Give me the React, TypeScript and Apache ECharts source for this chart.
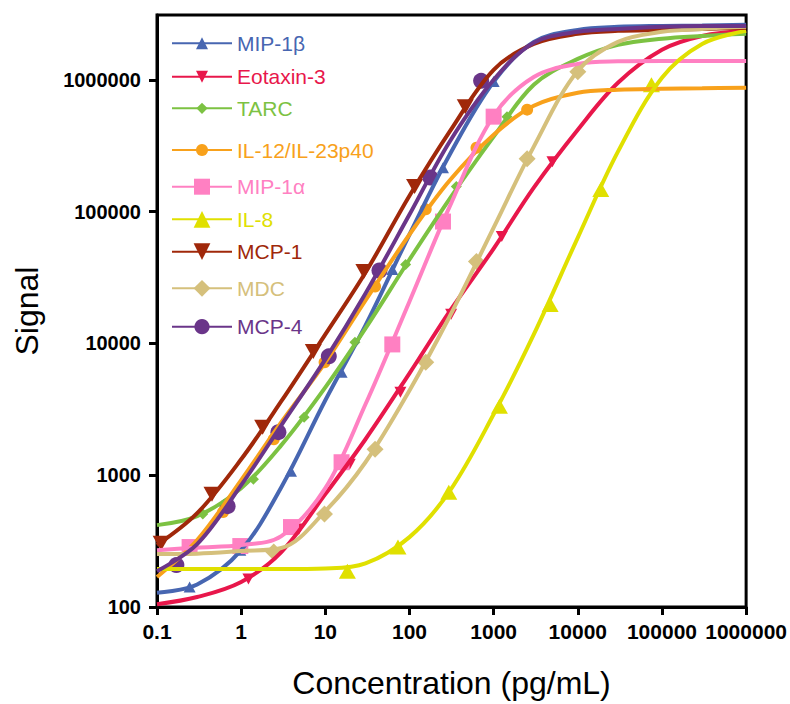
import React, { useEffect, useRef } from "react";
import * as echarts from "echarts";

// ---- data ----
const xTicks = [0.1, 1, 10, 100, 1000, 10000, 100000, 1000000];
const yTicks = [100, 1000, 10000, 100000, 1000000];

const names = ["MIP-1β", "Eotaxin-3", "TARC", "IL-12/IL-23p40", "MIP-1α", "IL-8", "MCP-1", "MDC", "MCP-4"];

// fitted-curve sample concentrations
const curveX = [0.1, 0.3, 1, 3, 10, 30, 100, 300, 1000, 3000, 10000, 30000, 100000, 300000, 1000000];

const mip1bCurve = [128, 148, 270, 811, 3700, 13700, 67000, 270000, 966000, 1940000, 2390000, 2520000, 2560000, 2580000, 2610000];
const eotaxinCurve = [105, 119, 155, 261, 718, 1874, 5930, 17500, 52400, 152000, 418000, 949000, 1690000, 2150000, 2350000];
const tarcCurve = [418, 489, 797, 1690, 4640, 13000, 43300, 125000, 370000, 916000, 1440000, 1840000, 2050000, 2150000, 2230000];
const il12Curve = [169, 322, 917, 2520, 7180, 21200, 67000, 172000, 383000, 635000, 797000, 840000, 855000, 862000, 870000];
const mip1aCurve = [270, 282, 295, 345, 797, 3450, 20800, 109000, 533000, 1050000, 1320000, 1380000, 1390000, 1390000, 1390000];
const il8Curve = [194, 194, 194, 194, 196, 214, 339, 757, 2900, 11700, 63500, 285000, 1035000, 1870000, 2350000];
const mcp1Curve = [295, 515, 1320, 3640, 11700, 34500, 132000, 404000, 1190000, 1870000, 2230000, 2350000, 2390000, 2430000, 2480000];
const mdcCurve = [252, 254, 266, 280, 534, 1254, 4400, 16000, 75600, 311000, 1170000, 1940000, 2310000, 2430000, 2520000];
const mcp4Curve = [187, 300, 840, 2390, 7560, 23900, 94900, 339000, 1000000, 1910000, 2310000, 2430000, 2520000, 2560000, 2560000];

// measured points
const mip1bX = [0.244, 0.977, 3.91, 15.6, 62.5, 250, 1000];
const mip1bY = [142, 270, 1072, 6030, 36400, 215000, 970000];
const eotaxinX = [1.22, 4.88, 19.5, 78, 312.5, 1250, 5000];
const eotaxinY = [163, 390, 1212, 4250, 16600, 64700, 239000];
const tarcX = [0.35, 1.4, 5.6, 22.5, 90, 360, 1440];
const tarcY = [507, 933, 2750, 10200, 39700, 155000, 525000];
const il12X = [0.61, 2.44, 9.8, 39, 156, 625, 2500];
const il12Y = [525, 1874, 7180, 27000, 104000, 305000, 593000];
const mip1aX = [0.244, 0.977, 3.91, 15.6, 62.5, 250, 1000];
const mip1aY = [285, 290, 404, 1254, 9820, 84000, 525000];
const il8X = [18.3, 73, 293, 1172, 4688, 18750, 75000];
const il8Y = [187, 285, 743, 3330, 19700, 147000, 916000];
const mcp1X = [0.112, 0.45, 1.8, 7.2, 28.7, 115, 460];
const mcp1Y = [305, 718, 2310, 8690, 35100, 155000, 624000];
const mdcX = [2.44, 9.77, 39, 156, 625, 2500, 10000];
const mdcY = [261, 507, 1574, 7180, 41800, 252000, 1150000];
const mcp4X = [0.17, 0.69, 2.77, 11, 44, 177, 710];
const mcp4Y = [208, 582, 2120, 7970, 35700, 181000, 982000];

const curves = [mip1bCurve, eotaxinCurve, tarcCurve, il12Curve, mip1aCurve, il8Curve, mcp1Curve, mdcCurve, mcp4Curve];
const pointsX = [mip1bX, eotaxinX, tarcX, il12X, mip1aX, il8X, mcp1X, mdcX, mcp4X];
const pointsY = [mip1bY, eotaxinY, tarcY, il12Y, mip1aY, il8Y, mcp1Y, mdcY, mcp4Y];

// ---- styles ----
const DOWN = "path://M0,0L10,0L5,10Z";
const styles = [
  { color: "#4766b1", symbol: "triangle", size: [12, 11], itemH: 15, top: 27.8 },
  { color: "#e8174b", symbol: DOWN, size: [12, 11], itemH: 15, top: 61.2 },
  { color: "#7cc242", symbol: "diamond", size: [11, 11], itemH: 14, top: 92.8 },
  { color: "#f8a11b", symbol: "circle", size: [12, 12], itemH: 15, top: 134.5 },
  { color: "#ff80c2", symbol: "rect", size: [16, 16], itemH: 20, top: 171.2 },
  { color: "#e0e000", symbol: "triangle", size: [17, 15], itemH: 21, top: 203.8 },
  { color: "#a0280a", symbol: DOWN, size: [17, 15], itemH: 21, top: 236.2 },
  { color: "#d5c07c", symbol: "diamond", size: [17, 17], itemH: 21, top: 272.8 },
  { color: "#6a3589", symbol: "circle", size: [16, 16], itemH: 19, top: 311.2 },
];

const FONT = "'Liberation Sans', Arial, sans-serif";
const fmt = (v: number) => String(Number(Number(v).toPrecision(6)));

export default function App() {
  const ref = useRef<HTMLDivElement>(null);
  useEffect(() => {
    document.body.style.margin = "0";
    const chart = echarts.init(ref.current!, null, { renderer: "svg" });
    const series: any[] = [];
    names.forEach((name, i) => {
      const st = styles[i];
      series.push({
        type: "line",
        name,
        data: curveX.map((x, k) => [x, curves[i][k]]),
        smooth: 0.35,
        showSymbol: false,
        symbol: st.symbol,
        symbolSize: st.size,
        lineStyle: { width: 4, color: st.color },
        itemStyle: { color: st.color },
        emphasis: { disabled: true },
        silent: true,
      });
      series.push({
        type: "scatter",
        name,
        data: pointsX[i].map((x, k) => [x, pointsY[i][k]]),
        symbol: st.symbol,
        symbolSize: st.size,
        itemStyle: { color: st.color, opacity: 1 },
        emphasis: { disabled: true },
        silent: true,
      });
    });
    const legend = names.map((name, i) => ({
      data: [name],
      left: 166,
      top: styles[i].top,
      itemWidth: 60,
      itemHeight: styles[i].itemH,
      selectedMode: false,
      textStyle: { color: styles[i].color, fontSize: 21, fontFamily: FONT },
    }));
    const tickStyle = { show: true, length: 8, lineStyle: { color: "#000", width: 3 } };
    chart.setOption({
      animation: false,
      backgroundColor: "#fff",
      grid: { left: 157, right: 42, top: 15, bottom: 96, show: true, borderColor: "#000", borderWidth: 3 },
      legend,
      xAxis: {
        type: "log",
        logBase: 10,
        min: 0.1,
        max: 1000000,
        axisLine: { onZero: false, lineStyle: { color: "#000", width: 3 } },
        axisTick: { ...tickStyle, customValues: xTicks },
        axisLabel: {
          customValues: xTicks,
          formatter: fmt,
          color: "#000",
          fontSize: 21,
          fontWeight: "bold",
          fontFamily: FONT,
          margin: 14,
        },
        splitLine: { show: false },
        name: "Concentration (pg/mL)",
        nameLocation: "middle",
        nameGap: 60,
        nameTextStyle: { color: "#000", fontSize: 32, fontFamily: FONT },
      },
      yAxis: {
        type: "log",
        logBase: 10,
        min: 100,
        max: 3100000,
        axisLine: { onZero: false, lineStyle: { color: "#000", width: 3 } },
        axisTick: { ...tickStyle, customValues: yTicks },
        axisLabel: {
          customValues: yTicks,
          formatter: fmt,
          color: "#000",
          fontSize: 20,
          fontWeight: "bold",
          fontFamily: FONT,
          margin: 16,
        },
        splitLine: { show: false },
        name: "Signal",
        nameLocation: "middle",
        nameGap: 114,
        nameTextStyle: { color: "#000", fontSize: 32, fontFamily: FONT },
      },
      series,
    });
    return () => chart.dispose();
  }, []);
  return <div ref={ref} style={{ width: 790, height: 704 }} />;
}
